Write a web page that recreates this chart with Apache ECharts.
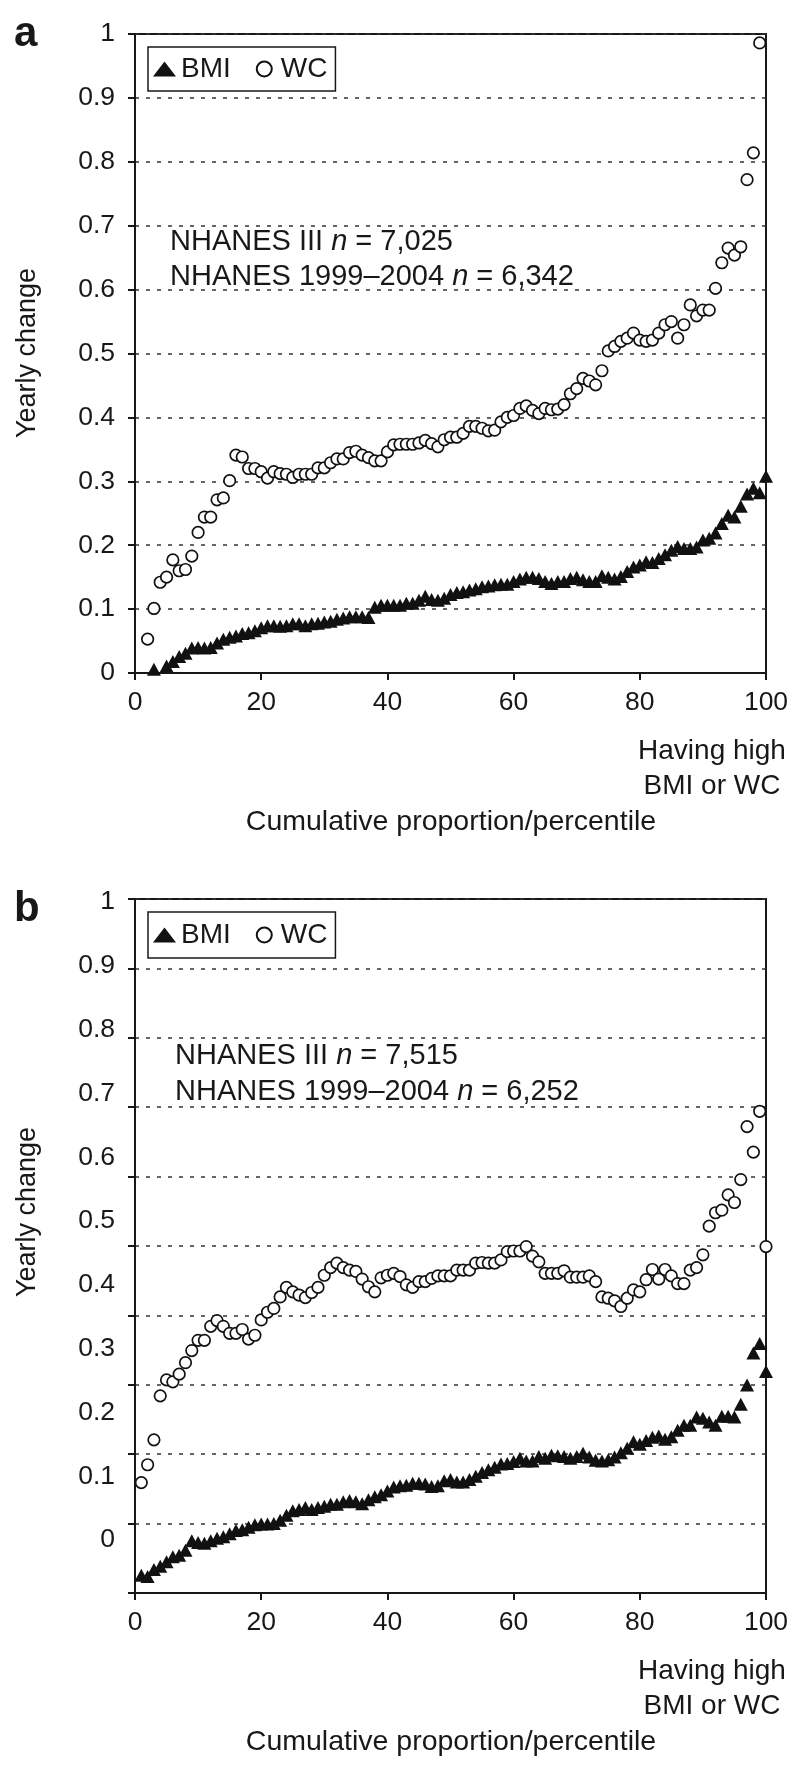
<!DOCTYPE html>
<html><head><meta charset="utf-8">
<script src="https://cdn.jsdelivr.net/npm/echarts@6/dist/echarts.min.js"></script>
<style>html,body{margin:0;padding:0;background:#fff}#chart{width:800px;height:1766px}</style>
</head><body><div id="chart"></div>
<script>
// Cumulative proportion / percentile (x values)
const percentiles = [1,2,3,4,5,6,7,8,9,10,11,12,13,14,15,16,17,18,19,20,21,22,23,24,25,26,27,28,29,30,31,32,33,34,35,36,37,38,39,40,41,42,43,44,45,46,47,48,49,50,51,52,53,54,55,56,57,58,59,60,61,62,63,64,65,66,67,68,69,70,71,72,73,74,75,76,77,78,79,80,81,82,83,84,85,86,87,88,89,90,91,92,93,94,95,96,97,98,99,100];
const xTickValues = [0,20,40,60,80,100];
const yTickValues = [0,0.1,0.2,0.3,0.4,0.5,0.6,0.7,0.8,0.9,1];

// Panel a
const aBMI = [null,null,0.006,null,0.011,0.018,0.026,0.031,0.039,0.040,0.039,0.040,0.047,0.053,0.056,0.058,0.062,0.063,0.066,0.071,0.074,0.074,0.073,0.074,0.077,0.077,0.074,0.077,0.078,0.080,0.081,0.084,0.086,0.088,0.088,0.088,0.087,0.103,0.106,0.106,0.106,0.106,0.109,0.109,0.114,0.120,0.115,0.114,0.117,0.123,0.126,0.127,0.130,0.132,0.135,0.136,0.138,0.139,0.139,0.143,0.147,0.150,0.150,0.148,0.143,0.140,0.143,0.143,0.148,0.150,0.146,0.143,0.143,0.152,0.150,0.147,0.151,0.159,0.166,0.169,0.174,0.173,0.179,0.185,0.192,0.198,0.195,0.195,0.197,0.208,0.211,0.219,0.234,0.247,0.244,0.261,0.280,0.289,0.282,0.308];
const aWC = [null,0.053,0.101,0.142,0.150,0.177,0.160,0.162,0.183,0.220,0.244,0.244,0.271,0.274,0.301,0.341,0.338,0.320,0.320,0.315,0.305,0.315,0.312,0.311,0.306,0.311,0.311,0.311,0.321,0.321,0.329,0.335,0.335,0.345,0.347,0.341,0.337,0.332,0.332,0.346,0.357,0.358,0.358,0.358,0.360,0.364,0.359,0.354,0.365,0.369,0.369,0.375,0.386,0.386,0.383,0.379,0.380,0.393,0.400,0.403,0.414,0.418,0.411,0.406,0.414,0.412,0.413,0.420,0.437,0.445,0.461,0.457,0.451,0.473,0.504,0.511,0.519,0.524,0.532,0.521,0.519,0.521,0.532,0.545,0.550,0.524,0.545,0.576,0.559,0.568,0.568,0.602,0.642,0.665,0.654,0.667,0.772,0.814,0.986,null];

// Panel b
const bBMI = [-0.055,-0.057,-0.046,-0.041,-0.034,-0.026,-0.024,-0.016,-0.001,-0.004,-0.005,-0.001,0.003,0.005,0.010,0.015,0.016,0.020,0.024,0.025,0.025,0.026,0.031,0.039,0.046,0.048,0.051,0.048,0.051,0.053,0.056,0.056,0.060,0.062,0.060,0.057,0.063,0.068,0.071,0.077,0.083,0.085,0.086,0.089,0.089,0.088,0.084,0.085,0.093,0.095,0.091,0.091,0.095,0.100,0.106,0.110,0.114,0.119,0.120,0.123,0.128,0.124,0.124,0.131,0.128,0.133,0.132,0.131,0.128,0.131,0.136,0.130,0.125,0.124,0.126,0.130,0.137,0.144,0.154,0.150,0.156,0.161,0.163,0.158,0.162,0.172,0.180,0.180,0.193,0.191,0.185,0.180,0.194,0.194,0.193,0.213,0.243,0.293,0.308,0.264];
const bWC = [0.090,0.118,0.157,0.226,0.251,0.248,0.260,0.278,0.297,0.313,0.313,0.335,0.344,0.335,0.324,0.324,0.330,0.315,0.321,0.345,0.357,0.363,0.381,0.396,0.389,0.384,0.380,0.388,0.396,0.415,0.427,0.434,0.427,0.423,0.421,0.409,0.397,0.389,0.411,0.415,0.418,0.413,0.400,0.396,0.405,0.405,0.410,0.414,0.414,0.414,0.423,0.423,0.423,0.434,0.435,0.434,0.434,0.439,0.452,0.453,0.453,0.460,0.445,0.436,0.418,0.418,0.418,0.422,0.412,0.412,0.412,0.414,0.405,0.381,0.379,0.375,0.366,0.379,0.392,0.389,0.408,0.424,0.409,0.424,0.414,0.402,0.402,0.423,0.427,0.447,0.492,0.513,0.517,0.541,0.529,0.565,0.648,0.608,0.672,0.460];

const seriesNames = ['BMI','WC'];
const panelLetters = ['a','b'];
const yAxisTitle = 'Yearly change';
const xAxisTitle = 'Cumulative proportion/percentile';
const xEndNote = ['Having high','BMI or WC'];
const annotA = ['NHANES III {i|n} = 7,025','NHANES 1999\u20132004 {i|n} = 6,342'];
const annotB = ['NHANES III {i|n} = 7,515','NHANES 1999\u20132004 {i|n} = 6,252'];

const FONT = '"Liberation Sans", Arial, Helvetica, sans-serif';
const INK = '#1a1718';

function pairs(arr){ const out=[]; arr.forEach((v,i)=>{ if(v!==null) out.push([percentiles[i], v]); }); return out; }

const grids = [
  {left:135, top:34, width:631, height:639},
  {left:135, top:899, width:631, height:694}
];

function xAxisFor(gi){
  return {
    type:'value', gridIndex:gi, min:0, max:100, interval:20,
    axisLine:{show:true, onZero:false, lineStyle:{color:INK, width:2}},
    axisTick:{show:true, inside:false, length:7, lineStyle:{color:INK, width:2}},
    axisLabel:{fontSize:26.5, fontFamily:FONT, color:INK, margin:16},
    splitLine:{show:false}
  };
}
const dashed = {color:'#333', width:1.6, type:[4,7]};

const option = {
  animation:false,
  backgroundColor:'#fff',
  grid: grids.map(g=>Object.assign({show:true, borderColor:INK, borderWidth:2, backgroundColor:'transparent'}, g)),
  xAxis:[xAxisFor(0), xAxisFor(1)],
  yAxis:[
    { type:'value', gridIndex:0, min:0, max:1, interval:0.1,
      axisLine:{show:true, lineStyle:{color:INK, width:2}},
      axisTick:{show:true, length:7, lineStyle:{color:INK, width:2}},
      axisLabel:{fontSize:26.5, fontFamily:FONT, color:INK, margin:20},
      splitLine:{show:true, lineStyle:dashed} },
    // panel b: axis carrying the printed labels and the data
    { type:'value', gridIndex:1, min:-0.083, max:1.0047, position:'left',
      axisLine:{show:false}, axisTick:{show:false}, splitLine:{show:false},
      axisLabel:{fontSize:26.5, fontFamily:FONT, color:INK, margin:20, customValues:yTickValues,
        formatter:v=>String(Math.round(v*10)/10)} },
    // panel b: gridline / tick axis (ten equal divisions)
    { type:'value', gridIndex:1, min:0, max:10, interval:1, position:'left',
      axisLine:{show:true, lineStyle:{color:INK, width:2}},
      axisTick:{show:true, length:7, lineStyle:{color:INK, width:2}},
      axisLabel:{show:false},
      splitLine:{show:true, lineStyle:dashed} }
  ],
  legend:[
    {data:seriesNames, left:148, top:47, orient:'horizontal', padding:[8,8,8,5], itemGap:25, itemWidth:23, itemHeight:15,
     borderColor:INK, borderWidth:1.5, borderRadius:0, selectedMode:false,
     textStyle:{fontSize:28, fontFamily:FONT, color:INK}},
    {data:seriesNames, left:148, top:912, orient:'horizontal', padding:[9,8,9,5], itemGap:25, itemWidth:23, itemHeight:15,
     borderColor:INK, borderWidth:1.5, borderRadius:0, selectedMode:false,
     textStyle:{fontSize:28, fontFamily:FONT, color:INK}}
  ],
  series:[
    {name:seriesNames[1], type:'scatter', xAxisIndex:0, yAxisIndex:0, symbol:'circle', symbolSize:11.5, clip:false,
     itemStyle:{color:'#fff', borderColor:'#111', borderWidth:1.7, opacity:1}, data:pairs(aWC)},
    {name:seriesNames[0], type:'scatter', xAxisIndex:0, yAxisIndex:0, symbol:'triangle', symbolSize:[14,13], clip:false,
     itemStyle:{color:'#111', opacity:1}, data:pairs(aBMI)},
    {name:seriesNames[1], type:'scatter', xAxisIndex:1, yAxisIndex:1, symbol:'circle', symbolSize:11.5, clip:false,
     itemStyle:{color:'#fff', borderColor:'#111', borderWidth:1.7, opacity:1}, data:pairs(bWC)},
    {name:seriesNames[0], type:'scatter', xAxisIndex:1, yAxisIndex:1, symbol:'triangle', symbolSize:[14,13], clip:false,
     itemStyle:{color:'#111', opacity:1}, data:pairs(bBMI)}
  ],
  graphic:[]
};

function txt(x,y,text,opts){
  return {type:'text', x:x, y:y, silent:true, rotation:(opts&&opts.rotation)||0,
    style:Object.assign({text:text, fill:INK, fontFamily:FONT, fontSize:28, textAlign:'left', textVerticalAlign:'middle', verticalAlign:'middle'}, opts&&opts.style)};
}
const rich = {i:{fontStyle:'italic', fontSize:29, fontFamily:FONT, fill:INK}};
const G = option.graphic;
// panel letters
G.push(txt(14,34,panelLetters[0],{style:{fontSize:42, fontWeight:'bold'}}));
G.push(txt(14,909,panelLetters[1],{style:{fontSize:42, fontWeight:'bold'}}));
// y titles
G.push(txt(28,353,yAxisTitle,{rotation:Math.PI/2, style:{fontSize:27, textAlign:'center'}}));
G.push(txt(28,1212,yAxisTitle,{rotation:Math.PI/2, style:{fontSize:27, textAlign:'center'}}));
// x notes and titles
[[673,0],[1593,1]].forEach(([base])=>{
  G.push(txt(712,base+78,xEndNote[0],{style:{fontSize:28, textAlign:'center'}}));
  G.push(txt(712,base+113,xEndNote[1],{style:{fontSize:28, textAlign:'center'}}));
  G.push(txt(451,base+149,xAxisTitle,{style:{fontSize:28.5, textAlign:'center'}}));
});
// annotations
G.push(txt(170,242,annotA[0],{style:{fontSize:29, rich:rich}}));
G.push(txt(170,277,annotA[1],{style:{fontSize:29, rich:rich}}));
G.push(txt(175,1056,annotB[0],{style:{fontSize:29, rich:rich}}));
G.push(txt(175,1092,annotB[1],{style:{fontSize:29, rich:rich}}));

const chart = echarts.init(document.getElementById('chart'), null, {renderer:'canvas'});
chart.setOption(option);
</script></body></html>
